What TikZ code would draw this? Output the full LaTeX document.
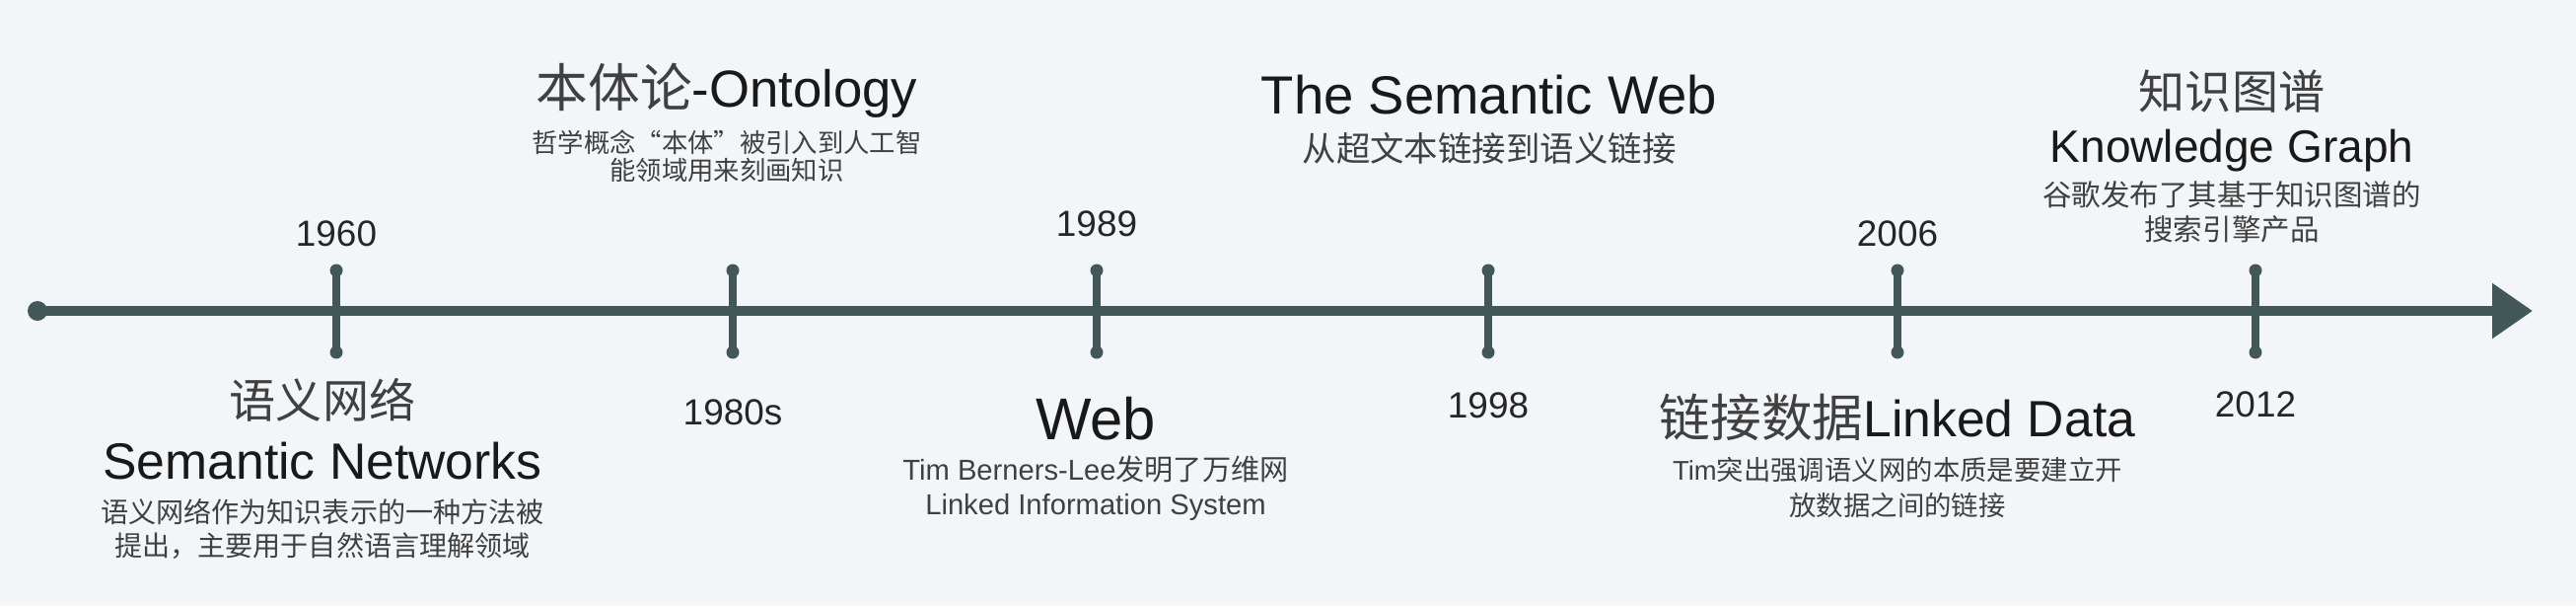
\documentclass[tikz,border=0pt]{standalone}
\usepackage{fontspec}
\usepackage{xcolor}
\setmainfont{Liberation Sans}
\newfontfamily\cjk{Noto Sans CJK SC}
\usetikzlibrary{arrows.meta}

\definecolor{bgcol}{HTML}{F3F6F9}
\definecolor{axiscol}{HTML}{425758}
\definecolor{desccol}{HTML}{404040}

\begin{document}
\begin{tikzpicture}[
    axisline/.style={draw=axiscol, line width=2.6pt, line cap=round},
    tickmark/.style={draw=axiscol, line width=2.5pt, line cap=round},
    yearlbl/.style={font=\fontsize{10.5}{12}\selectfont, text=black!85},
    titlelbl/.style={font=\fontsize{15}{18}\selectfont, text=black!90},
    desclbl/.style={font=\fontsize{8}{9.6}\selectfont, align=center, text=desccol}
  ]
  \fill[bgcol] (0,0) rectangle (26.12,6.14);
  \useasboundingbox (0,0) rectangle (26.12,6.14);

  \coordinate (start) at (0.38,2.99);
  \coordinate (end) at (25.68,2.99);
  \draw[axisline, -{Triangle[length=0.41cm, width=0.54cm]}] (start) -- (end);
  \fill[axiscol] (start) circle (0.1);

  \foreach \x/\n in {3.41/t1, 7.43/t2, 11.12/t3, 15.09/t4, 19.24/t5, 22.87/t6} {
    \coordinate (\n-top) at (\x,3.40);
    \coordinate (\n-bot) at (\x,2.57);
    \draw[tickmark] (\n-top) -- (\n-bot);
    \fill[axiscol] (\n-top) circle (0.065) (\n-bot) circle (0.065);
  }

  \node[yearlbl] (y1960) at (3.41,3.77) {1960};
  \node[yearlbl] (y1980) at (7.43,1.96) {1980s};
  \node[yearlbl] (y1989) at (11.12,3.87) {1989};
  \node[yearlbl] (y1998) at (15.09,2.03) {1998};
  \node[yearlbl] (y2006) at (19.24,3.77) {2006};
  \node[yearlbl] (y2012) at (22.87,2.04) {2012};

  \node[titlelbl, font=\cjk\fontsize{13.4}{16}\selectfont, text=black!75] (sn-cn) at (3.27,2.09) {语义网络};
  \node[titlelbl, font=\fontsize{14.7}{17}\selectfont] (sn-en) at (3.27,1.47) {Semantic Networks};
  \node[desclbl] (sn-desc) at (3.27,0.78) {\cjk 语义网络作为知识表示的一种方法被\\\cjk 提出，主要用于自然语言理解领域};

  \node[titlelbl] (onto) at (7.37,5.22) {{\cjk\color{black!75}本体论}-Ontology};
  \node[desclbl, font=\fontsize{7.5}{8}\selectfont] (onto-desc) at (7.37,4.56) {\cjk 哲学概念“本体”被引入到人工智\\\cjk 能领域用来刻画知识};

  \node[titlelbl, font=\fontsize{17}{20}\selectfont] (web) at (11.11,1.90) {Web};
  \node[desclbl, font=\fontsize{8.3}{10}\selectfont] (web-desc) at (11.11,1.19) {Tim Berners-Lee{\cjk 发明了万维网}\\Linked Information System};

  \node[titlelbl, font=\fontsize{15.5}{18}\selectfont] (semweb) at (15.10,5.18) {The Semantic Web};
  \node[desclbl, font=\cjk\fontsize{9.8}{12}\selectfont] (semweb-desc) at (15.10,4.64) {从超文本链接到语义链接};

  \node[titlelbl, font=\fontsize{14.7}{17}\selectfont] (ld) at (19.24,1.91) {{\cjk\color{black!75}链接数据}Linked Data};
  \node[desclbl, font=\fontsize{7.8}{10.5}\selectfont] (ld-desc) at (19.24,1.20) {Tim{\cjk 突出强调语义网的本质是要建立开}\\\cjk 放数据之间的链接};

  \node[titlelbl, font=\cjk\fontsize{13.4}{16}\selectfont, text=black!75] (kg-cn) at (22.63,5.21) {知识图谱};
  \node[titlelbl, font=\fontsize{13.1}{16}\selectfont] (kg-en) at (22.63,4.61) {Knowledge Graph};
  \node[desclbl, font=\cjk\fontsize{8.4}{10}\selectfont] (kg-desc) at (22.63,3.99) {谷歌发布了其基于知识图谱的\\搜索引擎产品};
\end{tikzpicture}
\end{document}
